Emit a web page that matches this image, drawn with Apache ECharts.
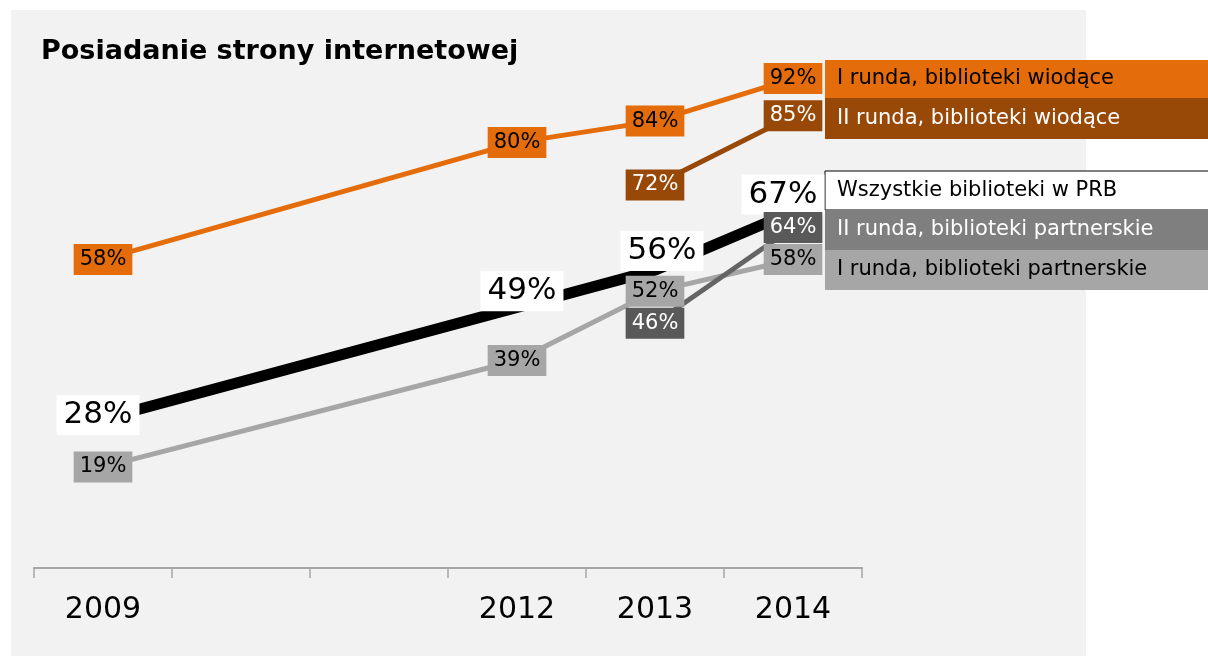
<!DOCTYPE html>
<html>
<head>
<meta charset="utf-8">
<title>Posiadanie strony internetowej</title>
<script src="https://cdn.jsdelivr.net/npm/echarts@6/dist/echarts.min.js"></script>
<style>
  html, body { margin: 0; padding: 0; background: #fff; }
  #chart { width: 1208px; height: 656px; }
</style>
</head>
<body>
<div id="chart"></div>
<script>
// dane
var years = ['2009', '2010', '2011', '2012', '2013', '2014'];
var tickLabels = ['2009', '', '', '2012', '2013', '2014'];

var seriesNames = [
  'I runda, biblioteki wiodące',
  'II runda, biblioteki wiodące',
  'Wszystkie biblioteki w PRB',
  'II runda, biblioteki partnerskie',
  'I runda, biblioteki partnerskie'
];

var wiodaceI = [58, null, null, 80, 84, 92];
var wiodaceII = [null, null, null, null, 72, 85];
var wszystkie = [28, null, null, 49, 56, 67];
var partnerskieII = [null, null, null, null, 46, 64];
var partnerskieI = [19, null, null, 39, 52, 58];

// wyglad
var lineColors = ['#E46C0A', '#984807', '#000000', '#646464', '#A6A6A6'];
var boxColors = ['#E46C0A', '#984807', '#FFFFFF', '#595959', '#A6A6A6'];
var legendColors = ['#E46C0A', '#984807', '#FFFFFF', '#7F7F7F', '#A6A6A6'];
var textColors = ['#000', '#fff', '#000', '#fff', '#000'];
var lineWidths = [5, 5, 11, 5, 5];
var blackOffsets = [[-5, -4], null, null, [5, -16], [7, -19], [-10, -17]];

var allData = [wiodaceI, wiodaceII, wszystkie, partnerskieII, partnerskieI];

function makeSeries(i) {
  var big = i === 2;
  var data = allData[i].map(function (v, k) {
    if (v === null) return null;
    var item = { value: v };
    if (big && blackOffsets[k]) {
      item.label = { offset: blackOffsets[k] };
    }
    return item;
  });
  return {
    name: seriesNames[i],
    type: 'line',
    data: data,
    connectNulls: true,
    symbol: 'rect',
    symbolSize: 1,
    itemStyle: { color: lineColors[i] },
    lineStyle: { color: lineColors[i], width: lineWidths[i] },
    label: {
      show: true,
      position: 'inside',
      formatter: '{c}%',
      fontFamily: 'DejaVu Sans',
      fontSize: big ? 31 : 21,
      color: textColors[i],
      backgroundColor: boxColors[i],
      padding: big ? [4, 7, 4, 7] : [4, 6, 4, 6],
      lineHeight: big ? 32 : 23
    },
    emphasis: { disabled: true },
    animation: false
  };
}

// legenda po prawej
var legendRows = [[60, 38], [98, 41], [171, 39], [210, 40], [250, 40]];
var graphics = [{
  type: 'rect',
  shape: { x: 11, y: 10, width: 1075, height: 646 },
  style: { fill: '#F2F2F2' },
  z: -10
}];
seriesNames.forEach(function (name, i) {
  graphics.push({
    type: 'rect',
    shape: { x: 825, y: legendRows[i][0], width: 400, height: legendRows[i][1] },
    style: {
      fill: legendColors[i],
      stroke: i === 2 ? '#000' : null,
      lineWidth: i === 2 ? 1 : 0
    },
    z: 1
  });
  graphics.push({
    type: 'text',
    x: 837,
    y: legendRows[i][0] + legendRows[i][1] / 2,
    style: {
      text: name,
      fontFamily: 'DejaVu Sans',
      fontSize: 21,
      fill: textColors[i],
      verticalAlign: 'middle'
    },
    z: 2
  });
});

var chart = echarts.init(document.getElementById('chart'));
chart.setOption({
  backgroundColor: '#FFFFFF',
  animation: false,
  title: {
    text: 'Posiadanie strony internetowej',
    left: 41,
    top: 38,
    padding: 0,
    textStyle: {
      fontFamily: 'DejaVu Sans',
      fontWeight: 'bold',
      fontSize: 27,
      color: '#000'
    }
  },
  grid: { left: 34, right: 346, top: 36, bottom: 88 },
  xAxis: {
    type: 'category',
    data: years,
    boundaryGap: true,
    axisLine: { lineStyle: { color: '#A6A6A6', width: 2 } },
    axisTick: { show: true, length: 10, lineStyle: { color: '#A6A6A6', width: 1.5 } },
    axisLabel: {
      margin: 27,
      fontFamily: 'DejaVu Sans',
      fontSize: 30,
      color: '#000',
      formatter: function (v, idx) { return tickLabels[idx]; }
    },
    splitLine: { show: false }
  },
  yAxis: {
    type: 'value',
    min: 0,
    max: 100,
    show: false
  },
  graphic: graphics,
  series: [makeSeries(2), makeSeries(0), makeSeries(1), makeSeries(4), makeSeries(3)]
});
</script>
</body>
</html>
